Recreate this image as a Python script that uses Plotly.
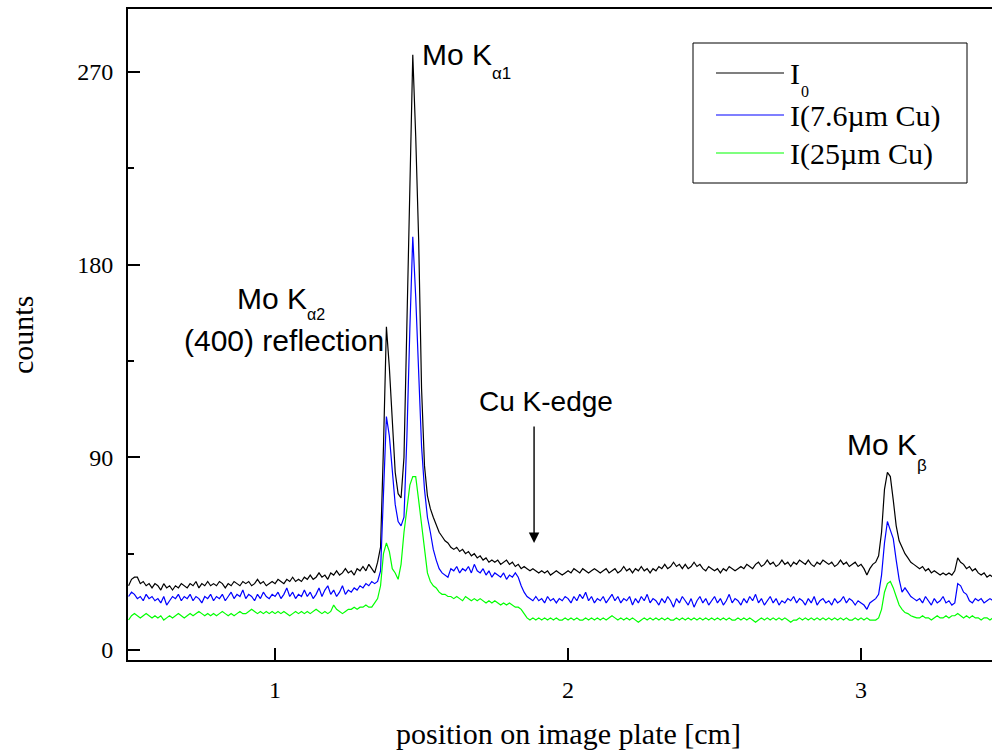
import numpy as np
import plotly.graph_objects as go

W, H = 992, 750
L, R, T, B = 128, 0, 9, 90

# sample positions on the image plate [cm]
position_cm = np.round(np.arange(0.50, 3.455, 0.01), 2)

# I0 : unfiltered beam
counts_I0 = [
    30, 33, 34, 34, 31, 32, 30, 31, 29, 31,
    30, 28, 31, 29, 30, 28, 30, 29, 31, 30,
    29, 31, 30, 32, 29, 31, 30, 32, 30, 31,
    30, 32, 31, 29, 31, 30, 32, 31, 30, 32,
    31, 32, 30, 31, 33, 31, 32, 30, 31, 32,
    31, 33, 32, 31, 33, 32, 34, 32, 33, 32,
    34, 33, 35, 33, 34, 36, 34, 35, 33, 36,
    35, 37, 35, 36, 38, 36, 37, 35, 38, 37,
    39, 37, 40, 38, 36, 41, 48, 95, 151, 132,
    108, 83, 73, 71, 90, 150, 215, 278, 240, 192,
    122, 86, 72, 66, 62, 58, 55, 53, 51, 50,
    48, 47, 48, 46, 47, 45, 46, 44, 45, 43,
    44, 42, 43, 41, 42, 41, 42, 40, 41, 42,
    40, 41, 39, 40, 38, 39, 38, 37, 38, 37,
    36, 37, 36, 37, 35, 36, 37, 36, 35, 36,
    37, 36, 38, 37, 36, 38, 37, 36, 37, 38,
    37, 36, 37, 38, 36, 37, 38, 36, 37, 39,
    37, 38, 36, 38, 37, 39, 37, 38, 36, 38,
    37, 39, 38, 40, 38, 39, 41, 39, 40, 38,
    40, 38, 39, 41, 39, 40, 38, 37, 39, 38,
    37, 38, 36, 38, 37, 39, 38, 37, 38, 39,
    38, 40, 39, 38, 40, 41, 39, 40, 42, 40,
    41, 39, 40, 42, 40, 41, 39, 41, 40, 42,
    41, 40, 42, 40, 39, 41, 40, 42, 41, 40,
    41, 39, 40, 42, 40, 41, 39, 40, 41, 39,
    40, 38, 35, 38, 40, 41, 44, 55, 75, 83,
    81, 70, 58, 51, 48, 45, 43, 41, 40, 39,
    38, 39, 37, 38, 36, 37, 36, 35, 36, 35,
    36, 35, 37, 43, 41, 40, 38, 39, 37, 38,
    36, 35, 36, 34, 35, 34,
]

# I : behind 7.6 um Cu foil
counts_7_6um = [
    25, 27, 26, 24, 25, 23, 26, 24, 25, 23,
    24, 22, 25, 21, 23, 25, 24, 26, 23, 25,
    24, 26, 23, 25, 24, 22, 25, 24, 26, 23,
    25, 24, 26, 23, 25, 27, 24, 26, 25, 28,
    24, 26, 25, 23, 26, 24, 27, 25, 24, 26,
    25, 27, 24, 26, 29, 25, 27, 24, 26, 25,
    28, 25, 27, 24, 26, 29, 25, 28, 30, 26,
    28, 25, 27, 30, 26, 28, 27, 29, 28, 30,
    29, 31, 30, 32, 31, 32, 37, 75, 109, 100,
    84, 68, 60, 58, 62, 100, 150, 193, 165, 125,
    95, 75, 62, 55, 47, 42, 38, 36, 35, 34,
    38, 37, 39, 36, 38, 37, 39, 36, 40, 37,
    36, 38, 35, 37, 34, 36, 35, 34, 36, 33,
    35, 34, 36, 34, 30, 27, 25, 24, 23, 25,
    23, 24, 22, 25, 23, 24, 22, 24, 23, 25,
    24, 22, 25, 23, 26, 24, 27, 23, 25, 22,
    24, 23, 25, 22, 24, 26, 23, 25, 22, 24,
    23, 25, 21, 24, 22, 25, 23, 26, 22, 24,
    23, 21, 24, 22, 25, 23, 20, 24, 22, 25,
    23, 21, 24, 20, 23, 25, 22, 24, 21, 23,
    25, 22, 24, 21, 23, 26, 22, 24, 23, 21,
    24, 22, 25, 23, 26, 22, 24, 21, 23, 25,
    22, 24, 21, 23, 22, 24, 23, 25, 22, 24,
    23, 21, 24, 22, 25, 21, 23, 24, 22, 23,
    21, 24, 22, 23, 25, 22, 24, 23, 21, 23,
    22, 21, 19, 22, 23, 24, 26, 35, 50, 60,
    56, 52, 42, 33, 27, 29, 27, 25, 24, 23,
    24, 22, 25, 23, 21, 24, 22, 23, 25, 22,
    23, 21, 22, 31, 30, 27, 26, 23, 22, 24,
    23, 24, 22, 23, 24, 23,
]

# I : behind 25 um Cu foil
counts_25um = [
    14, 16, 17, 16, 15, 16, 17, 16, 15, 16,
    15, 16, 14, 15, 16, 15, 16, 17, 16, 15,
    16, 17, 16, 17, 18, 17, 16, 17, 16, 17,
    16, 17, 18, 17, 16, 17, 16, 17, 18, 17,
    17, 18, 19, 18, 17, 18, 17, 18, 17, 18,
    17, 18, 17, 18, 17, 16, 17, 18, 17, 18,
    17, 18, 17, 18, 19, 18, 17, 18, 17, 18,
    21, 19, 18, 17, 18, 19, 19, 20, 19, 20,
    20, 21, 20, 20, 22, 24, 30, 45, 50, 46,
    38, 36, 33, 40, 55, 66, 77, 81, 81, 70,
    58, 45, 36, 32, 30, 29, 27, 26, 26, 25,
    25, 24, 25, 24, 23, 25, 24, 23, 24, 23,
    24, 23, 22, 23, 22, 23, 22, 21, 22, 21,
    22, 21, 20, 20, 19, 17, 15, 14, 15, 14,
    15, 14, 15, 14, 15, 14, 15, 14, 14, 15,
    14, 15, 14, 15, 14, 14, 15, 14, 15, 14,
    15, 14, 15, 14, 15, 16, 15, 14, 15, 14,
    15, 14, 15, 14, 13, 14, 15, 14, 15, 14,
    15, 14, 15, 14, 15, 14, 14, 15, 14, 15,
    14, 15, 14, 15, 14, 15, 14, 15, 14, 15,
    14, 15, 14, 15, 14, 15, 14, 14, 15, 14,
    15, 14, 15, 14, 13, 14, 15, 14, 15, 14,
    15, 14, 15, 14, 15, 14, 13, 14, 14, 15,
    14, 15, 14, 15, 14, 15, 14, 15, 14, 15,
    14, 15, 14, 15, 14, 15, 14, 14, 15, 14,
    15, 14, 15, 14, 14, 14, 15, 19, 27, 31,
    32, 29, 25, 21, 19, 17.5, 17, 16, 15.5, 15,
    15, 16, 15, 15, 14, 15, 16, 15, 15, 16,
    15, 16, 16, 17, 16, 15, 16, 15, 16, 15,
    15, 14, 15, 15, 14, 15,
]

# legend entries: (main text, subscript)
series_labels = [("I", "0"), ("I(7.6µm Cu)", ""), ("I(25µm Cu)", "")]
series_colors = ["#000000", "#0000ff", "#00ff00"]
series_values = [counts_I0, counts_7_6um, counts_25um]

SERIF = "Liberation Serif, Times New Roman, serif"
SANS = "Liberation Sans, Arial, sans-serif"

fig = go.Figure()
for (main, sub), ys, color in zip(series_labels, series_values, series_colors):
    fig.add_trace(go.Scatter(
        x=position_cm, y=ys, mode="lines", name=main + sub,
        line=dict(color=color, width=1.2), showlegend=False,
    ))


def paper_x(px):
    return (px - L) / (W - L - R)


def paper_y(py):
    return (H - B - py) / (H - T - B)


annotations = []


def label(text, px, py, size, family=SANS, xanchor="left", yanchor="middle", **kw):
    annotations.append(dict(
        text=text, xref="paper", yref="paper", x=paper_x(px), y=paper_y(py),
        xanchor=xanchor, yanchor=yanchor, showarrow=False,
        font=dict(family=family, size=size, color="black"), **kw,
    ))


# peak labels (subscripts set as separate, smaller, lowered texts)
label("Mo K", 420, 54, 30)
label("α1", 490, 73, 17)
label("Mo K", 235, 298, 30)
label("α2", 305, 314, 16)
label("(400) reflection", 284, 340, 30, xanchor="center")
label("Cu K-edge", 546, 402, 28, xanchor="center")
label("Mo K", 845, 444, 30)
label("β", 915, 465, 17)

# arrow pointing at the Cu K-edge
annotations.append(dict(
    x=1.884, y=50, xref="x", yref="y", ax=0, ay=-118, text="",
    showarrow=True, arrowhead=2, arrowsize=1.5, arrowwidth=1.4, arrowcolor="black",
))

# axis titles
label("position on image plate [cm]", 568, 733, 30, family=SERIF, xanchor="center")
label("counts", 22, 335, 30, family=SERIF, xanchor="center", textangle=-90)

# legend box
shapes = [dict(
    type="rect", xref="paper", yref="paper",
    x0=paper_x(693), x1=paper_x(967), y0=paper_y(183), y1=paper_y(43),
    line=dict(color="black", width=1), fillcolor="white", layer="above",
)]
legend_rows = [73, 115, 153]
for (main, sub), color, py in zip(series_labels, series_colors, legend_rows):
    shapes.append(dict(
        type="line", xref="paper", yref="paper",
        x0=paper_x(716), x1=paper_x(784), y0=paper_y(py), y1=paper_y(py),
        line=dict(color=color, width=1.2), layer="above",
    ))
    label(main, 788, py + 1, 30, family=SERIF)
    if sub:
        label(sub, 799, py + 18, 16, family=SERIF)

fig.update_layout(
    width=W, height=H,
    margin=dict(l=L, r=R, t=T, b=B, pad=0),
    paper_bgcolor="white", plot_bgcolor="white",
    showlegend=False,
    annotations=annotations, shapes=shapes,
    xaxis=dict(
        range=[0.498, 3.447], tickmode="linear", tick0=0, dtick=1,
        ticks="inside", ticklen=12, tickwidth=2, tickcolor="black",
        showline=True, linewidth=2, linecolor="black", mirror=True,
        showgrid=False, zeroline=False, ticklabelstandoff=7,
        tickfont=dict(family=SERIF, size=24, color="black"),
    ),
    yaxis=dict(
        range=[-4.67, 299.4], tickmode="linear", tick0=0, dtick=90,
        ticks="inside", ticklen=12, tickwidth=2, tickcolor="black",
        minor=dict(dtick=45, ticks="inside", ticklen=6, tickwidth=2, tickcolor="black"),
        showline=True, linewidth=2, linecolor="black",
        showgrid=False, zeroline=False, ticklabelstandoff=8,
        tickfont=dict(family=SERIF, size=24, color="black"),
    ),
)

fig.write_html("out.html")
